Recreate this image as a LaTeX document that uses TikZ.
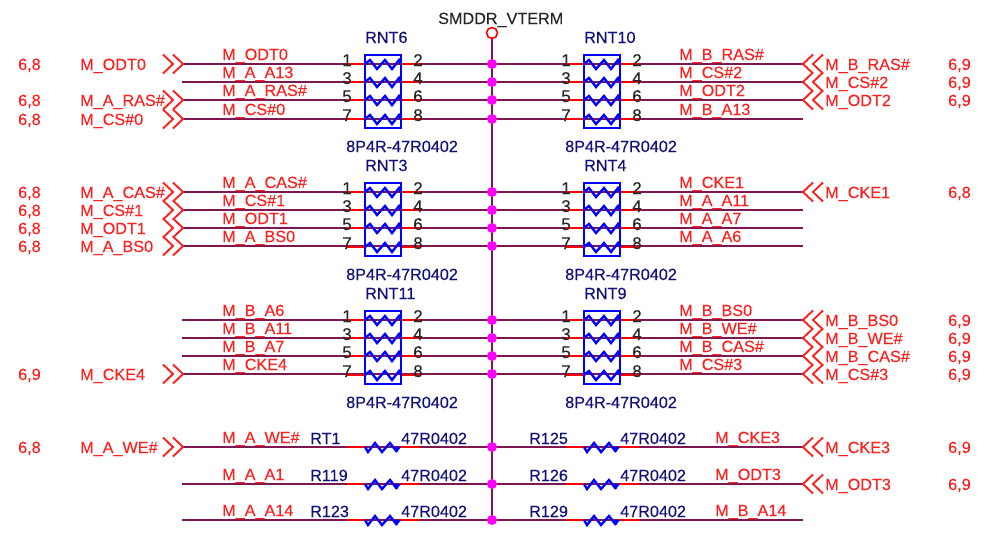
\documentclass[tikz,border=0pt]{standalone}
\usepackage{fontspec}
\setmainfont{Liberation Sans}[FakeBold=0.2]
\definecolor{wineline}{HTML}{7E1650}
\definecolor{netred}{HTML}{FF2020}
\definecolor{partblue}{HTML}{10107A}
\definecolor{dotpink}{HTML}{FF00FF}
\definecolor{stubred}{HTML}{FF0000}
\definecolor{boxblue}{HTML}{0000FF}
\tikzset{
    wire/.style = {wineline, line width = 2pt},
    stub/.style = {stubred, line width = 2.4pt},
    rnbox/.style = {draw = boxblue, line width = 2.4pt, minimum width = 36pt, minimum height = 73pt, inner sep = 0pt},
    zig/.style = {boxblue, line width = 2.4pt, line join = miter},
    chev/.style = {netred, line width = 1.9pt},
    dotmark/.style = {circle, fill = dotpink, minimum size = 10pt, inner sep = 0pt},
    termmark/.style = {circle, draw = stubred, line width = 1.6pt, fill = white, minimum size = 11pt, inner sep = 0pt},
    netlbl/.style = {netred, anchor = base west, inner sep = 0pt},
    partlbl/.style = {partblue, anchor = base west, inner sep = 0pt},
    pinlbl/.style = {black!85, anchor = base, inner sep = 0pt, font = \fontsize{17}{18}\selectfont}
}
% tag, x of box edge, y, left pin, right pin
\newcommand{\pinrow}[5]{
    \coordinate (#1a) at (#2-18,#3);
    \coordinate (#1b) at (#2,#3);
    \coordinate (#1c) at (#2+36,#3);
    \coordinate (#1d) at (#2+55,#3);
    \draw[stub] (#1a) -- (#1b);
    \draw[stub] (#1c) -- (#1d);
    \node[pinlbl] (#1p) at (#2-18,#3+2) {#4};
    \node[pinlbl] (#1q) at (#2+53,#3+2) {#5};
}
% pack resistor
\newcommand{\zigpack}[1]{
    \draw[zig] (#1b) -- ++(5,-4) -- ++(7,9) -- ++(8,-9) -- ++(7,9) -- ++(7,-9) -- (#1c);
}
% single resistor
\newcommand{\zigone}[1]{
    \draw[zig] (#1b) -- ++(3,5) -- ++(7,-9) -- ++(7,9) -- ++(8,-9) -- ++(7,9);
    \fill[boxblue] (#1c) ++(-8,0) -- ++(8,0) -- ++(-4,5) -- cycle;
}
% wires out to the left and right
\newcommand{\leftnet}[2]{
    \coordinate (wl#1) at (182,#1);
    \draw[wire] (wl#1) -- (rail#1);
    \node[netlbl] (ln#1) at (222,#1-4) {#2};
}
\newcommand{\rightnet}[3]{
    \coordinate (wr#1) at (803,#1);
    \draw[wire] (rail#1) -- (wr#1);
    \node[netlbl] (rn#1) at (#3,#1-4) {#2};
}
% off page marks
\newcommand{\leftport}[3]{
    \draw[chev] (wl#1) ++(-9,-9.5) -- ++(10,9.5) -- ++(-10,9.5);
    \draw[chev] (wl#1) ++(-19,-9.5) -- ++(10,9.5) -- ++(-10,9.5);
    \node[netlbl] (lp#1) at (80,#1+6) {#2};
    \node[netlbl] (ls#1) at (18,#1+6) {#3};
}
\newcommand{\rightport}[3]{
    \draw[chev] (wr#1) ++(10,-9.5) -- ++(-10,9.5) -- ++(10,9.5);
    \draw[chev] (wr#1) ++(20,-9.5) -- ++(-10,9.5) -- ++(10,9.5);
    \node[netlbl] (rp#1) at (825,#1+6) {#2};
    \node[netlbl] (rs#1) at (948,#1+6) {#3};
}
\begin{document}
\begin{tikzpicture}[x = 1pt, y = -1pt, font = \fontsize{16.2}{18}\selectfont]
    \useasboundingbox (0,0) rectangle (989,533);
    \node[termmark] (vterm) at (492,33) {};
    \node[anchor = base west, inner sep = 0pt, black!85] (vtermlbl) at (438,24) {SMDDR\_VTERM};
    \coordinate (railend) at (492,520);
    \draw[wire] (vterm) -- (railend);
    \foreach \y in {64,82,100,119,192,210,228,246,320,338,356,374,447,484,520}
        \coordinate (rail\y) at (492,\y);

    % first row of packs
    \leftnet{64}{M\_ODT0}
    \leftnet{82}{M\_A\_A13}
    \leftnet{100}{M\_A\_RAS\#}
    \leftnet{119}{M\_CS\#0}
    \rightnet{64}{M\_B\_RAS\#}{679}
    \rightnet{82}{M\_CS\#2}{679}
    \rightnet{100}{M\_ODT2}{679}
    \rightnet{119}{M\_B\_A13}{679}
    \leftport{64}{M\_ODT0}{6,8}
    \leftport{100}{M\_A\_RAS\#}{6,8}
    \leftport{119}{M\_CS\#0}{6,8}
    \rightport{64}{M\_B\_RAS\#}{6,9}
    \rightport{82}{M\_CS\#2}{6,9}
    \rightport{100}{M\_ODT2}{6,9}

    % second row of packs
    \leftnet{192}{M\_A\_CAS\#}
    \leftnet{210}{M\_CS\#1}
    \leftnet{228}{M\_ODT1}
    \leftnet{246}{M\_A\_BS0}
    \rightnet{192}{M\_CKE1}{679}
    \rightnet{210}{M\_A\_A11}{679}
    \rightnet{228}{M\_A\_A7}{679}
    \rightnet{246}{M\_A\_A6}{679}
    \leftport{192}{M\_A\_CAS\#}{6,8}
    \leftport{210}{M\_CS\#1}{6,8}
    \leftport{228}{M\_ODT1}{6,8}
    \leftport{246}{M\_A\_BS0}{6,8}
    \rightport{192}{M\_CKE1}{6,8}

    % third row of packs
    \leftnet{320}{M\_B\_A6}
    \leftnet{338}{M\_B\_A11}
    \leftnet{356}{M\_B\_A7}
    \leftnet{374}{M\_CKE4}
    \rightnet{320}{M\_B\_BS0}{679}
    \rightnet{338}{M\_B\_WE\#}{679}
    \rightnet{356}{M\_B\_CAS\#}{679}
    \rightnet{374}{M\_CS\#3}{679}
    \leftport{374}{M\_CKE4}{6,9}
    \rightport{320}{M\_B\_BS0}{6,9}
    \rightport{338}{M\_B\_WE\#}{6,9}
    \rightport{356}{M\_B\_CAS\#}{6,9}
    \rightport{374}{M\_CS\#3}{6,9}

    % single resistors
    \leftnet{447}{M\_A\_WE\#}
    \leftnet{484}{M\_A\_A1}
    \leftnet{520}{M\_A\_A14}
    \rightnet{447}{M\_CKE3}{715}
    \rightnet{484}{M\_ODT3}{715}
    \rightnet{520}{M\_B\_A14}{715}
    \leftport{447}{M\_A\_WE\#}{6,8}
    \rightport{447}{M\_CKE3}{6,9}
    \rightport{484}{M\_ODT3}{6,9}

    % packs, with the tag, the box and its texts
    \foreach \name/\top/\xbox/\xval in {RNT6/64/365/346, RNT3/192/365/346, RNT11/320/365/346, RNT10/64/584/565, RNT4/192/584/565, RNT9/320/584/565} {
        \pgfmathtruncatemacro{\ya}{\top}
        \pgfmathtruncatemacro{\yb}{\top+18}
        \pgfmathtruncatemacro{\yc}{\top+36}
        \pgfmathtruncatemacro{\yd}{\top+55}
        \pinrow{\name x1}{\xbox}{\ya}{1}{2}
        \pinrow{\name x2}{\xbox}{\yb}{3}{4}
        \pinrow{\name x3}{\xbox}{\yc}{5}{6}
        \pinrow{\name x4}{\xbox}{\yd}{7}{8}
        \node[rnbox] (\name) at (\xbox+18,\top+27.5) {};
        \zigpack{\name x1}
        \zigpack{\name x2}
        \zigpack{\name x3}
        \zigpack{\name x4}
        \node[partlbl] (\name lbl) at (\xbox,\top-21) {\name};
        \node[partlbl] (\name val) at (\xval,\top+88) {8P4R-47R0402};
    }

    \foreach \name/\y/\xbox/\xname/\xval in {RT1/447/365/310/401, R119/484/365/310/401, R123/520/365/310/401, R125/447/584/529/620, R126/484/584/529/620, R129/520/584/529/620} {
        \pinrow{\name x}{\xbox}{\y}{}{}
        \zigone{\name x}
        \node[partlbl] (\name lbl) at (\xname,\y-3) {\name};
        \node[partlbl] (\name val) at (\xval,\y-3) {47R0402};
    }

    \foreach \y in {64,82,100,119,192,210,228,246,320,338,356,374,447,484,520}
        \node[dotmark] (dot\y) at (rail\y) {};
\end{tikzpicture}
\end{document}
